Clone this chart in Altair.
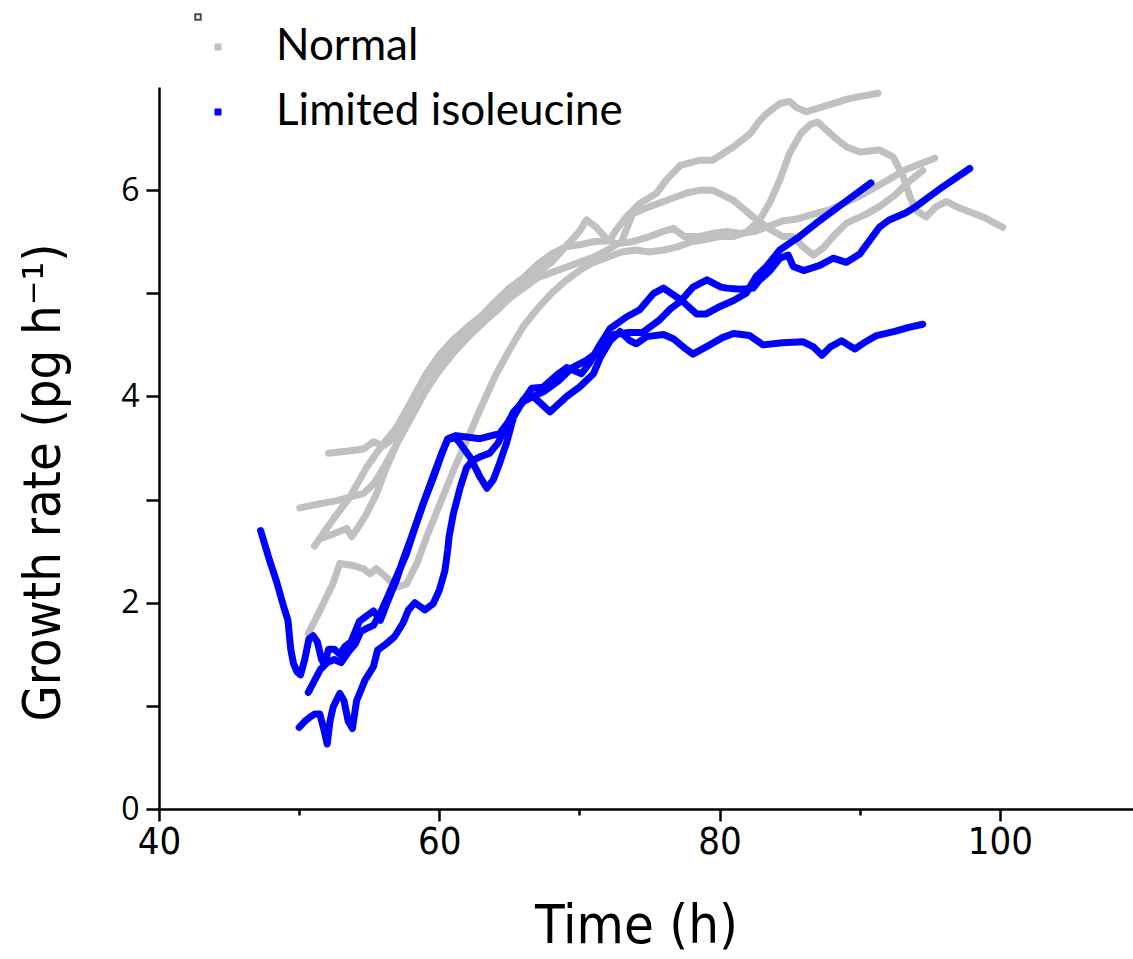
import altair as alt
import pandas as pd

# ---------------- data ----------------
# Normal (grey) traces
n1_t = [52.1, 53.5, 54.6, 55.3, 56.0, 56.8, 57.5, 58.2, 59.0, 60.0, 61.0, 62.0, 63.0, 64.0, 65.0, 66.0, 67.0, 68.0, 69.0, 70.0, 71.0, 72.15, 72.6, 73.35, 74.3, 75.5, 76.2, 77.2, 78.6, 79.5, 81.0, 82.2, 82.9, 83.35, 84.3, 85.0, 85.5, 86.2, 87.4, 89.3, 91.3]
n1_g = [3.45, 3.47, 3.49, 3.56, 3.52, 3.60, 3.80, 4.00, 4.20, 4.40, 4.55, 4.67, 4.78, 4.92, 5.05, 5.15, 5.28, 5.38, 5.45, 5.47, 5.50, 5.51, 5.61, 5.74, 5.87, 5.97, 6.10, 6.24, 6.29, 6.29, 6.42, 6.55, 6.68, 6.74, 6.84, 6.86, 6.80, 6.76, 6.81, 6.89, 6.94]

n2_t = [50.05, 51.5, 52.7, 54.6, 55.3, 56.0, 57.0, 58.0, 59.0, 60.0, 61.0, 62.0, 63.0, 64.0, 65.0, 66.0, 67.0, 68.0, 69.0, 70.0, 70.5, 71.2, 71.9, 72.6, 73.8, 75.0, 76.0, 76.7, 77.5, 78.5, 79.5, 80.5, 81.5, 82.5, 83.5, 84.5, 85.5, 86.5, 87.9, 88.8, 90.0, 91.65, 93.3, 95.35]
n2_g = [2.92, 2.96, 2.99, 3.06, 3.15, 3.30, 3.55, 3.80, 4.05, 4.30, 4.50, 4.62, 4.72, 4.85, 4.98, 5.10, 5.20, 5.30, 5.45, 5.60, 5.71, 5.64, 5.53, 5.48, 5.50, 5.55, 5.60, 5.63, 5.55, 5.55, 5.58, 5.60, 5.58, 5.60, 5.65, 5.70, 5.72, 5.76, 5.81, 5.87, 5.94, 6.07, 6.20, 6.31]

n3_t = [51.1, 51.7, 52.7, 53.6, 54.8, 56.0, 56.95, 58.0, 59.0, 60.0, 61.0, 62.0, 63.0, 64.0, 65.0, 66.0, 67.0, 68.0, 69.0, 70.0, 71.0, 72.0, 73.0, 73.8, 75.0, 76.2, 77.6, 78.6, 79.5, 81.0, 82.4, 83.6, 84.5, 85.2, 85.95, 86.7, 87.4, 88.1, 89.05, 90.5, 91.5, 92.5, 93.5, 94.5]
n3_g = [2.55, 2.67, 2.86, 3.02, 3.31, 3.54, 3.70, 3.95, 4.20, 4.40, 4.50, 4.60, 4.70, 4.82, 4.95, 5.05, 5.15, 5.20, 5.25, 5.30, 5.35, 5.42, 5.50, 5.77, 5.84, 5.90, 5.97, 6.00, 6.00, 5.90, 5.74, 5.62, 5.55, 5.55, 5.45, 5.37, 5.44, 5.55, 5.68, 5.77, 5.85, 5.95, 6.08, 6.19]

n4_t = [50.65, 51.5, 52.4, 52.9, 53.85, 54.6, 55.05, 55.5, 56.2, 56.95, 57.65, 58.4, 59.1, 60.05, 61.0, 61.95, 63.0, 64.0, 65.0, 66.0, 67.0, 68.0, 69.0, 70.0, 71.0, 72.0, 73.0, 74.0, 75.0, 76.0, 77.0, 78.0, 79.0, 80.0, 81.0, 82.0, 82.85, 83.55, 84.3, 85.0, 85.8, 86.5, 87.0, 87.5, 88.3, 89.05, 90.0, 91.4, 92.4, 93.1, 93.6, 94.05, 94.75, 95.45, 96.2, 96.9, 98.8, 100.2]
n4_g = [1.70, 1.93, 2.18, 2.38, 2.36, 2.33, 2.28, 2.33, 2.25, 2.15, 2.18, 2.38, 2.64, 2.96, 3.28, 3.57, 3.90, 4.20, 4.45, 4.68, 4.85, 5.00, 5.12, 5.22, 5.30, 5.35, 5.40, 5.42, 5.40, 5.42, 5.45, 5.50, 5.52, 5.55, 5.55, 5.60, 5.71, 5.87, 6.10, 6.36, 6.55, 6.64, 6.66, 6.60, 6.50, 6.42, 6.37, 6.39, 6.32, 6.13, 5.93, 5.80, 5.74, 5.84, 5.89, 5.84, 5.74, 5.64]

n5_t = [51.5, 52.3, 53.4, 53.75, 54.3, 54.8, 55.5, 56.2, 57.0, 58.0, 59.0, 60.0, 61.0, 62.0, 63.0, 64.0, 65.0]
n5_g = [2.62, 2.66, 2.72, 2.64, 2.75, 2.86, 3.05, 3.30, 3.55, 3.80, 4.05, 4.25, 4.42, 4.57, 4.70, 4.85, 5.00]

# Limited isoleucine (blue) traces
b1_t = [47.25, 47.8, 48.4, 48.9, 49.2, 49.4, 49.6, 49.85, 50.1, 50.4, 50.7, 51.0, 51.3, 51.6, 51.8, 52.1, 52.5, 52.9, 53.3, 53.7, 54.0, 54.3, 54.8, 55.3, 55.8, 56.25, 56.95, 57.4, 58.1, 58.85, 59.6, 60.2, 60.6, 61.2, 62.9, 64.3, 65.3, 66.0, 66.7, 67.9, 69.1, 70.0, 71.0, 71.5, 72.2, 72.9, 73.6, 74.05, 74.8, 76.0, 76.7, 77.5, 78.1, 79.3, 80.2, 81.0, 82.15, 83.1, 84.5, 85.95, 86.7, 87.3, 87.9, 88.7, 89.65, 90.3, 91.2, 92.5, 93.5, 94.5]
b1_g = [2.70, 2.45, 2.20, 1.96, 1.83, 1.55, 1.41, 1.33, 1.30, 1.45, 1.65, 1.68, 1.62, 1.45, 1.40, 1.55, 1.55, 1.50, 1.58, 1.62, 1.72, 1.82, 1.87, 1.92, 1.83, 1.99, 2.22, 2.41, 2.67, 2.96, 3.22, 3.45, 3.59, 3.62, 3.59, 3.64, 3.82, 3.97, 4.00, 3.85, 4.00, 4.09, 4.22, 4.38, 4.54, 4.63, 4.54, 4.51, 4.58, 4.60, 4.56, 4.47, 4.41, 4.50, 4.57, 4.61, 4.59, 4.50, 4.52, 4.53, 4.48, 4.40, 4.48, 4.54, 4.46, 4.52, 4.59, 4.63, 4.67, 4.70]

b2_t = [50.65, 51.0, 51.5, 52.0, 52.5, 53.0, 53.5, 54.0, 54.4, 54.8, 55.3, 55.8, 56.3, 57.0, 57.65, 58.2, 58.9, 59.6, 60.2, 60.6, 61.1, 61.35, 62.2, 62.9, 63.4, 63.85, 64.3, 64.8, 65.3, 66.0, 66.6, 67.4, 68.5, 69.1, 70.15, 70.7, 71.5, 72.2, 73.35, 74.3, 75.3, 76.0, 77.3, 78.35, 79.05, 80.0, 81.0, 81.9, 82.6, 83.35, 84.3, 85.7, 86.9, 88.8, 90.8]
b2_g = [1.13, 1.22, 1.35, 1.42, 1.45, 1.42, 1.52, 1.60, 1.72, 1.75, 1.78, 1.90, 2.05, 2.27, 2.47, 2.70, 2.98, 3.24, 3.46, 3.58, 3.60, 3.57, 3.41, 3.22, 3.11, 3.19, 3.35, 3.55, 3.80, 3.96, 4.08, 4.09, 4.22, 4.28, 4.22, 4.32, 4.51, 4.66, 4.77, 4.84, 5.00, 5.05, 4.93, 4.80, 4.80, 4.87, 4.93, 5.00, 5.16, 5.26, 5.42, 5.55, 5.68, 5.87, 6.07]

b3_t = [50.0, 50.4, 50.77, 51.1, 51.48, 51.75, 52.0, 52.2, 52.43, 52.9, 53.2, 53.5, 53.8, 54.1, 54.7, 55.3, 55.6, 56.2, 56.8, 57.4, 57.8, 58.26, 58.97, 59.56, 60.0, 60.4, 60.6, 60.7, 61.0, 61.5, 61.95, 62.4, 63.0, 63.6, 64.2, 64.8, 65.3, 66.0, 66.7, 67.5, 68.5, 69.5, 70.5, 71.5, 72.5, 73.5, 74.5, 75.7, 76.5, 77.2, 78.1, 79.1, 80.1, 80.5, 81.5, 82.4, 82.8, 83.6, 84.3, 84.9, 85.25, 86.0, 87.15, 88.1, 89.05, 90.0, 90.7, 91.4, 92.1, 93.3, 94.0, 95.9, 97.85]
b3_g = [0.79, 0.85, 0.89, 0.92, 0.92, 0.78, 0.63, 0.85, 0.99, 1.12, 1.05, 0.85, 0.78, 1.05, 1.25, 1.38, 1.54, 1.60, 1.67, 1.80, 1.93, 2.00, 1.93, 1.99, 2.12, 2.31, 2.51, 2.64, 2.86, 3.12, 3.31, 3.38, 3.42, 3.45, 3.55, 3.72, 3.85, 3.95, 4.00, 4.05, 4.15, 4.28, 4.35, 4.45, 4.60, 4.62, 4.62, 4.74, 4.85, 4.92, 5.06, 5.13, 5.06, 5.05, 5.04, 5.05, 5.12, 5.22, 5.34, 5.37, 5.26, 5.22, 5.27, 5.34, 5.30, 5.38, 5.51, 5.64, 5.71, 5.78, 5.84, 6.03, 6.21]

groups = ["Normal", "Limited isoleucine"]
colors = ["#c0c0c0", "#0000ff"]

normal_traces = [(n1_t, n1_g), (n2_t, n2_g), (n3_t, n3_g), (n4_t, n4_g), (n5_t, n5_g)]
limited_traces = [(b1_t, b1_g), (b2_t, b2_g), (b3_t, b3_g)]


def build(traces, group, prefix):
    rows = []
    for i, (ts, gs) in enumerate(traces):
        for k, (t, g) in enumerate(zip(ts, gs)):
            rows.append({"trace": f"{prefix}{i}", "group": group, "t": t, "g": g, "k": k})
    return pd.DataFrame(rows)


df_n = build(normal_traces, groups[0], "n")
df_b = build(limited_traces, groups[1], "b")

narrow = "DejaVu Sans Condensed, Liberation Sans, sans-serif"

x_enc = alt.X(
    "t:Q",
    scale=alt.Scale(domain=[40, 109.5], nice=False, zero=False),
    axis=alt.Axis(
        values=[40, 50, 60, 70, 80, 90, 100],
        labelExpr="datum.value % 20 == 0 ? datum.label : ''",
        title="Time (h)",
        titleFont=narrow,
        titleFontSize=54,
        titleFontWeight="normal",
        titleX=477,
        titleY=133,
        titleBaseline="alphabetic",
        labelFont=narrow,
        labelFontSize=38,
        labelPadding=2,
        labelFlush=False,
        labelOverlap=False,
        grid=False,
        tickSize={"condition": {"test": "datum.value % 20 == 0", "value": 12}, "value": 6},
    ),
)
y_enc = alt.Y(
    "g:Q",
    scale=alt.Scale(domain=[0, 7], nice=False),
    axis=alt.Axis(
        values=[0, 1, 2, 3, 4, 5, 6],
        labelExpr="datum.value % 2 == 0 ? datum.label : ''",
        title="Growth rate (pg h\u207b\u00b9)",
        titleFont=narrow,
        titleFontSize=52,
        titleFontWeight="normal",
        titleAngle=-90,
        titleX=-100,
        titleY=395,
        titleBaseline="alphabetic",
        titleAlign="center",
        labelFont="Open Sans",
        labelFontSize=32,
        labelPadding=7,
        labelFlush=False,
        labelOverlap=False,
        grid=False,
        tickSize=13,
    ),
)
color_enc = alt.Color(
    "group:N",
    scale=alt.Scale(domain=groups, range=colors),
    legend=alt.Legend(
        title=None,
        orient="none",
        legendX=37,
        legendY=-62,
        symbolType="square",
        symbolSize=9,
        symbolStrokeWidth=4,
        labelFont="Lato",
        labelFontSize=44,
        labelColor="black",
        labelOffset=36,
        labelLimit=0,
        rowPadding=21,
        padding=0,
    ),
)

line_style = dict(strokeWidth=7, strokeCap="round", strokeJoin="round")

normal = alt.Chart(df_n).mark_line(**line_style).encode(
    x=x_enc, y=y_enc, color=color_enc, detail="trace:N", order="k:Q"
)
limited = alt.Chart(df_b).mark_line(**line_style).encode(
    x=x_enc, y=y_enc, color=color_enc, detail="trace:N", order="k:Q"
)
marker = alt.Chart(pd.DataFrame({"m": [0]})).mark_square(
    size=30, filled=False, color="black", strokeWidth=2
).encode(x=alt.value(39), y=alt.value(-70))

chart = (
    alt.layer(normal, limited, marker)
    .properties(
        width=974,
        height=722,
        autosize=alt.AutoSizeParams(type="none"),
        padding={"left": 159, "top": 87, "right": 0, "bottom": 150},
    )
    .configure(background="white")
    .configure_view(stroke=None)
    .configure_axis(
        domainColor="black",
        domainWidth=2.5,
        tickColor="black",
        tickWidth=2.5,
        labelColor="black",
        titleColor="black",
    )
)

chart.save("out.html", embed_options={"renderer": "svg", "actions": False})
